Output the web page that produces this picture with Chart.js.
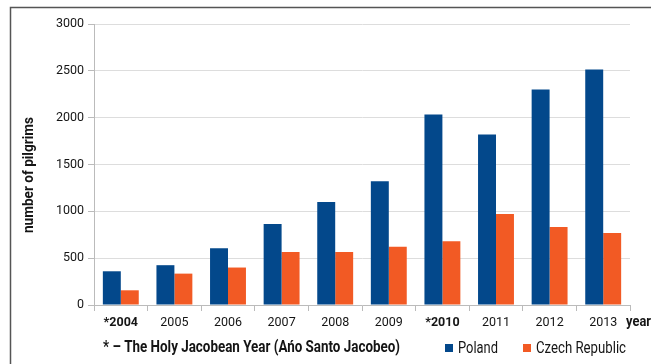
<!DOCTYPE html>
<html>
<head>
<meta charset="utf-8">
<script src="https://cdn.jsdelivr.net/npm/chart.js@4.4.1/dist/chart.umd.min.js"></script>
<style>
  html, body { margin: 0; padding: 0; background: #ffffff; }
  #wrap { width: 651px; height: 364px; position: relative; }
</style>
</head>
<body>
<div id="wrap"><canvas id="c" width="651" height="364"></canvas></div>
<script>
// Pilgrims per year, by country of origin (* = Holy Jacobean Year)
const years = ['*2004', '2005', '2006', '2007', '2008', '2009', '*2010', '2011', '2012', '2013'];
const poland = [360, 425, 605, 865, 1100, 1320, 2035, 1820, 2300, 2515];
const czechRepublic = [157, 335, 400, 565, 565, 623, 680, 972, 833, 769];
const yTicks = [0, 500, 1000, 1500, 2000, 2500, 3000];

const FONT = "Roboto, 'Liberation Sans', sans-serif";
const INK = '#151515';
const BLUE = '#03488b';
const ORANGE = '#f25a24';

// Draws text squeezed horizontally to a given width (condensed look)
function fitText(c, text, x, y, width, font) {
  c.save();
  c.font = font;
  const w = c.measureText(text).width;
  c.translate(x, y);
  c.scale(width / w, 1);
  c.textAlign = 'left';
  c.textBaseline = 'middle';
  c.fillText(text, 0, 0);
  c.restore();
}

// Frame, axis title, footnote, "year" caption and legend
const extras = {
  id: 'extras',
  beforeDraw(chart) {
    const c = chart.ctx;
    c.save();
    c.strokeStyle = '#555555';
    c.lineWidth = 1.5;
    c.beginPath();
    c.moveTo(10.5, 364);
    c.lineTo(10.5, 7.5);
    c.lineTo(651, 7.5);
    c.stroke();
    c.restore();
  },
  afterDraw(chart) {
    const c = chart.ctx;
    c.save();
    c.fillStyle = INK;
    // y axis title
    c.translate(29, 175);
    c.rotate(-Math.PI / 2);
    fitText(c, 'number of pilgrims', -58, 0, 116, 'bold 15px ' + FONT);
    c.restore();

    c.save();
    c.fillStyle = INK;
    fitText(c, 'year', 626, 322, 25, 'bold 14px ' + FONT);
    fitText(c, '* \u2013 The Holy Jacobean Year (A\u0144o Santo Jacobeo)', 103, 348, 297, 'bold 16px ' + FONT);

    // legend built from the datasets
    const items = [
      { box: 445, text: 458, width: 40 },
      { box: 523, text: 536, width: 90 }
    ];
    chart.data.datasets.forEach((ds, i) => {
      const it = items[i];
      c.fillStyle = ds.backgroundColor;
      c.fillRect(it.box, 344, 8, 8);
      c.fillStyle = INK;
      fitText(c, ds.label, it.text, 348.5, it.width, '16px ' + FONT);
    });
    c.restore();
  }
};

new Chart(document.getElementById('c'), {
  type: 'bar',
  data: {
    labels: years,
    datasets: [
      { label: 'Poland', data: poland, backgroundColor: BLUE, borderWidth: 0 },
      { label: 'Czech Republic', data: czechRepublic, backgroundColor: ORANGE, borderWidth: 0 }
    ]
  },
  options: {
    responsive: false,
    animation: false,
    layout: { padding: { left: 0, right: 21, top: 24, bottom: 29 } },
    datasets: { bar: { categoryPercentage: 0.67, barPercentage: 1.0 } },
    plugins: {
      legend: { display: false },
      tooltip: { enabled: false }
    },
    scales: {
      x: {
        afterFit(scale) { scale.height = 30; },
        grid: {
          offset: true,
          drawOnChartArea: true,
          color: (ctx) => (ctx.index === 10 ? '#cccccc' : 'rgba(0,0,0,0)'),
          tickColor: '#bbbbbb',
          tickLength: 6,
          lineWidth: 1
        },
        border: { display: true, color: '#bbbbbb', width: 1 },
        ticks: {
          color: INK,
          padding: 4,
          font: (ctx) => ({
            family: FONT,
            size: 12.5,
            weight: ctx.tick && String(ctx.tick.label).startsWith('*') ? 'bold' : 'normal'
          })
        }
      },
      y: {
        min: 0,
        max: 3000,
        afterFit(scale) { scale.width = 94; },
        afterBuildTicks(scale) { scale.ticks = yTicks.map(v => ({ value: v })); },
        grid: {
          color: '#dddddd',
          tickColor: '#bbbbbb',
          tickLength: 6,
          lineWidth: 1
        },
        border: { display: true, color: '#bbbbbb', width: 1 },
        ticks: {
          color: INK,
          padding: 4,
          font: { family: FONT, size: 12.5 },
          callback: (v) => String(v)
        }
      }
    }
  },
  plugins: [extras]
});
</script>
</body>
</html>
